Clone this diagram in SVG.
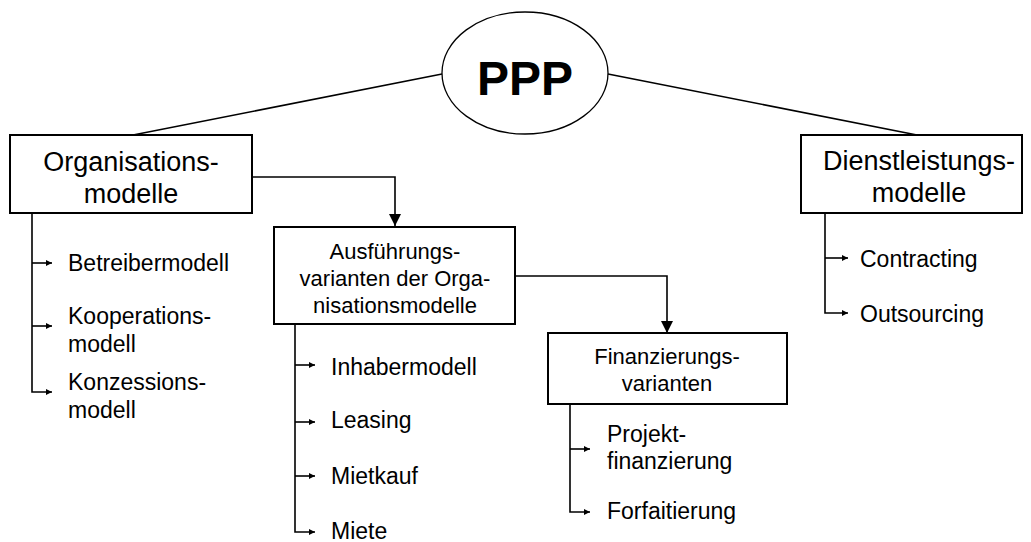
<svg xmlns="http://www.w3.org/2000/svg" width="1031" height="542" viewBox="0 0 1031 542">
<style>
.box{fill:#fff;stroke:#000;stroke-width:2}
.ln{fill:none;stroke:#000;stroke-width:1.6}
.t{font-family:"Liberation Sans",Arial,sans-serif;fill:#000}
.big{font-size:27px;text-anchor:middle}
.mid{font-size:22px;text-anchor:middle}
.lst{font-size:23px}
</style>
<defs>
<marker id="sa" viewBox="0 0 10 10" refX="10" refY="5" markerUnits="userSpaceOnUse" markerWidth="7" markerHeight="6" orient="auto">
<path d="M0,0 L10,5 L0,10 z" fill="#000"/>
</marker>
<marker id="ba" viewBox="0 0 10 10" refX="10" refY="5" markerUnits="userSpaceOnUse" markerWidth="14" markerHeight="12" orient="auto">
<path d="M0,0 L10,5 L0,10 z" fill="#000"/>
</marker>
</defs>
<g id="connectors">
<line class="ln" x1="442" y1="74" x2="133" y2="135"/>
<line class="ln" x1="608" y1="74" x2="917" y2="135"/>
<polyline class="ln" points="252,177 395,177 395,226" marker-end="url(#ba)"/>
<polyline class="ln" points="515,276 667,276 667,333" marker-end="url(#ba)"/>
<polyline class="ln" points="32,213 32,392 52,392" marker-end="url(#sa)"/>
<line class="ln" x1="32" y1="263" x2="52" y2="263" marker-end="url(#sa)"/>
<line class="ln" x1="32" y1="326" x2="52" y2="326" marker-end="url(#sa)"/>
<polyline class="ln" points="295,324 295,532 315,532" marker-end="url(#sa)"/>
<line class="ln" x1="295" y1="365" x2="315" y2="365" marker-end="url(#sa)"/>
<line class="ln" x1="295" y1="422" x2="315" y2="422" marker-end="url(#sa)"/>
<line class="ln" x1="295" y1="476" x2="315" y2="476" marker-end="url(#sa)"/>
<polyline class="ln" points="570,404 570,512 590,512" marker-end="url(#sa)"/>
<line class="ln" x1="570" y1="449" x2="590" y2="449" marker-end="url(#sa)"/>
<polyline class="ln" points="825,213 825,313 848,313" marker-end="url(#sa)"/>
<line class="ln" x1="825" y1="258" x2="848" y2="258" marker-end="url(#sa)"/>
</g>
<g id="ppp">
<ellipse cx="525" cy="73" rx="83" ry="61" fill="#fff" stroke="#000" stroke-width="1.3"/>
<text class="t" x="525" y="95" font-size="48" font-weight="bold" text-anchor="middle">PPP</text>
</g>
<g id="organisationsmodelle">
<rect class="box" x="10" y="135" width="242" height="78"/>
<text class="t big" x="131" y="171">Organisations-</text>
<text class="t big" x="131" y="203">modelle</text>
</g>
<g id="dienstleistungsmodelle">
<rect class="box" x="801" y="135" width="221" height="78"/>
<text class="t big" x="919" y="170">Dienstleistungs-</text>
<text class="t big" x="919" y="202">modelle</text>
</g>
<g id="ausfuehrungsvarianten">
<rect class="box" x="274" y="227" width="241" height="97"/>
<text class="t mid" x="395" y="259">Ausführungs-</text>
<text class="t mid" x="395" y="286">varianten der Orga-</text>
<text class="t mid" x="395" y="313">nisationsmodelle</text>
</g>
<g id="finanzierungsvarianten">
<rect class="box" x="548" y="333" width="239" height="71"/>
<text class="t mid" x="667" y="364">Finanzierungs-</text>
<text class="t mid" x="667" y="391">varianten</text>
</g>
<g id="betreibermodell"><text class="t lst" x="68" y="271">Betreibermodell</text></g>
<g id="kooperationsmodell"><text class="t lst" x="68" y="324">Kooperations-</text><text class="t lst" x="68" y="352">modell</text></g>
<g id="konzessionsmodell"><text class="t lst" x="68" y="390">Konzessions-</text><text class="t lst" x="68" y="418">modell</text></g>
<g id="inhabermodell"><text class="t lst" x="331" y="375">Inhabermodell</text></g>
<g id="leasing"><text class="t lst" x="331" y="428">Leasing</text></g>
<g id="mietkauf"><text class="t lst" x="331" y="484">Mietkauf</text></g>
<g id="miete"><text class="t lst" x="331" y="539">Miete</text></g>
<g id="projektfinanzierung"><text class="t lst" x="607" y="442">Projekt-</text><text class="t lst" x="607" y="469">finanzierung</text></g>
<g id="forfaitierung"><text class="t lst" x="607" y="519">Forfaitierung</text></g>
<g id="contracting"><text class="t lst" x="860" y="267">Contracting</text></g>
<g id="outsourcing"><text class="t lst" x="860" y="322">Outsourcing</text></g>
</svg>
